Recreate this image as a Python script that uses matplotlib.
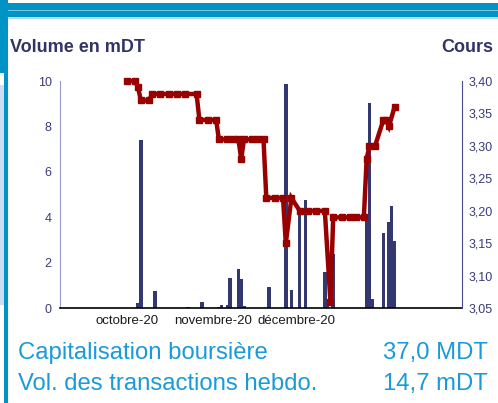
import numpy as np
import matplotlib.pyplot as plt
from matplotlib.patches import Rectangle
from matplotlib.ticker import FuncFormatter

plt.rcParams['font.family'] = ['Liberation Sans', 'DejaVu Sans']

# days counted from 1 Oct 2020
vol_days = [4, 5, 10, 22, 27, 33, 34, 36, 37, 40, 41, 42, 51, 57, 59, 62, 64,
            71, 72, 74, 86, 87, 88, 92, 94, 95, 96]
volumes = [0.22, 7.42, 0.75, 0.05, 0.27, 0.05, 0.13, 0.15, 1.35, 1.72, 1.28,
           0.08, 0.93, 9.87, 0.80, 4.40, 4.77, 1.59, 0.20, 2.37, 3.86, 9.05,
           0.40, 3.33, 3.81, 4.51, 2.98]

price_days = [0, 3, 4, 5, 8, 9, 12, 15, 18, 21, 25, 26, 29, 32, 33, 36, 38,
              40, 41, 42, 45, 47, 49, 50, 53, 56, 57, 59, 62, 65, 68, 71, 73,
              74, 77, 80, 82, 85, 86, 87, 89, 92, 93, 94, 96]
prices = [3.40, 3.40, 3.39, 3.37, 3.37, 3.38, 3.38, 3.38, 3.38, 3.38, 3.38,
          3.34, 3.34, 3.34, 3.31, 3.31, 3.31, 3.31, 3.28, 3.31, 3.31, 3.31,
          3.31, 3.22, 3.22, 3.22, 3.15, 3.22, 3.20, 3.20, 3.20, 3.20, 3.06,
          3.19, 3.19, 3.19, 3.19, 3.19, 3.28, 3.30, 3.30, 3.34, 3.34, 3.33,
          3.36]

month_days = [0, 31, 61]
month_labels = ['octobre-20', 'novembre-20', 'décembre-20']

W, H = 498, 403
navy = '#343870'
fig = plt.figure(figsize=(W / 100, H / 100), dpi=100)


def box(x0, y0, x1, y1, color):
    # rectangle given in pixel coords from top-left
    fig.add_artist(Rectangle((x0 / W, 1 - y1 / H), (x1 - x0) / W, (y1 - y0) / H,
                             transform=fig.transFigure, color=color, lw=0))


# blue frame
box(0, 2.5, W, 17, '#0094C6')
box(0, 9.5, W, 11, '#7FC6E2')
box(0, 17, W, 18.5, '#B5DDEE')
box(0, 0, 8, 73, '#0094C6')
box(4, 73, 8, H, '#0094C6')
box(0, 85, 4, 305, '#CCDDF2')

ax = fig.add_axes([60 / W, 1 - 308.3 / H, 402 / W, (308.3 - 81) / H])
ax.bar(vol_days, volumes, width=1.25, color=navy, zorder=2)
ax.set_xlim(-24, 120.2)
ax.set_ylim(0, 10)
ax.set_yticks(range(0, 11, 2))
ax.set_xticks(month_days)
ax.set_xticklabels(month_labels)
ax.tick_params(axis='x', length=0, pad=5, labelsize=9.5, labelcolor='#1a1a1a')
ax.tick_params(axis='y', length=0, pad=6, labelsize=9, labelcolor='#3b3b78')
for s in ['top', 'right']:
    ax.spines[s].set_visible(False)
ax.spines['left'].set_color('#9a9ac8')
ax.spines['bottom'].set_color('black')
ax.spines['bottom'].set_linewidth(1.2)

ax2 = ax.twinx()
ax2.plot(price_days, prices, color='#990000', lw=3.2, marker='s', ms=5,
         solid_joinstyle='miter', clip_on=False)
ax2.set_ylim(3.05, 3.40)
ax2.set_yticks(np.arange(3.05, 3.401, 0.05))
ax2.yaxis.set_major_formatter(FuncFormatter(lambda v, p: f'{v:.2f}'.replace('.', ',')))
ax2.tick_params(axis='y', length=0, pad=5, labelsize=9, labelcolor='#3b3b78')
for s in ['top', 'left', 'bottom']:
    ax2.spines[s].set_visible(False)
ax2.spines['right'].set_color('#4a4a90')

fig.text(10 / W, 1 - 47 / H, 'Volume en mDT', ha='left', va='center',
         fontsize=13, weight='bold', color='#333366')
fig.text(493 / W, 1 - 47 / H, 'Cours', ha='right', va='center',
         fontsize=13, weight='bold', color='#333366')

blue_txt = '#1A9AD8'
fig.text(18 / W, 1 - 353 / H, 'Capitalisation boursière', ha='left', va='center',
         fontsize=17.2, color=blue_txt)
fig.text(488 / W, 1 - 353 / H, '37,0 MDT', ha='right', va='center',
         fontsize=17.2, color=blue_txt)
fig.text(18 / W, 1 - 384 / H, 'Vol. des transactions hebdo.', ha='left', va='center',
         fontsize=17.2, color=blue_txt)
fig.text(488 / W, 1 - 384 / H, '14,7 mDT', ha='right', va='center',
         fontsize=17.2, color=blue_txt)

fig.savefig('out.png', dpi=100)
